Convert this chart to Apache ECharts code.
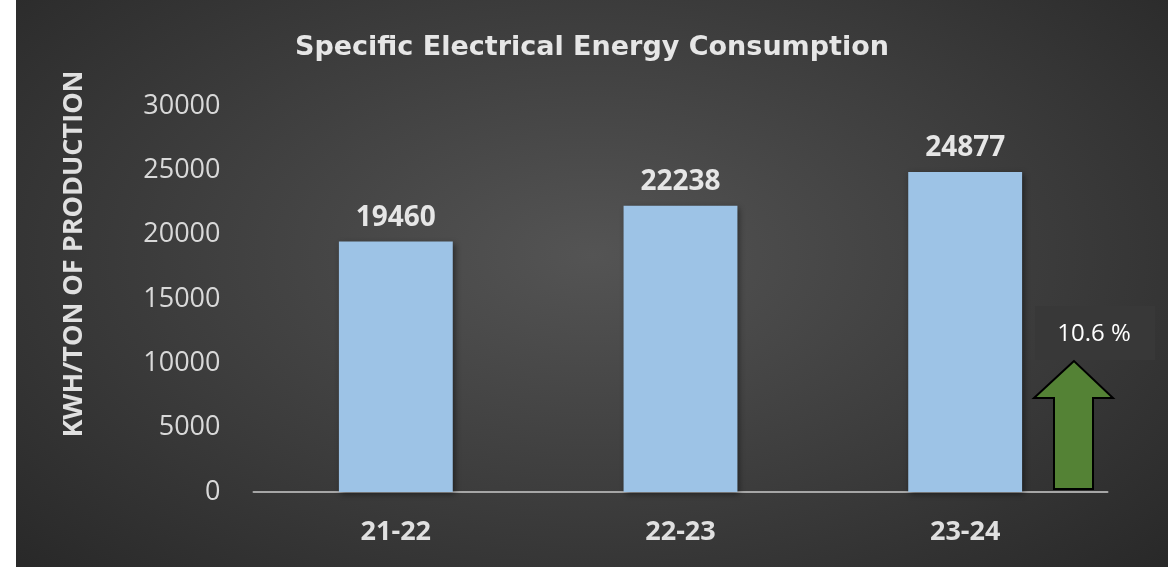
<!DOCTYPE html>
<html>
<head>
<meta charset="utf-8">
<script src="https://cdn.jsdelivr.net/npm/echarts@6/dist/echarts.min.js"></script>
<style>
  html, body { margin: 0; padding: 0; background: #ffffff; }
  #chart {
    position: absolute; left: 16px; top: 0; width: 1152px; height: 567px;
    background: radial-gradient(ellipse 70% 80% at 50% 45%, #545454 0%, #3c3c3c 55%, #282828 100%);
  }
</style>
</head>
<body>
<div id="chart"></div>
<script>
const categories = ['21-22', '22-23', '23-24'];
const values = [19460, 22238, 24877];
const yTicks = { min: 0, max: 30000, interval: 5000 };
const titleText = 'Specific Electrical Energy Consumption';
const yAxisName = 'KWH/TON OF PRODUCTION';
const changeLabel = '10.6 %';

const chart = echarts.init(document.getElementById('chart'), null, { renderer: 'canvas' });
const font = '"Open Sans", "Liberation Sans", sans-serif';

chart.setOption({
  backgroundColor: 'transparent',
  animation: false,
  title: {
    text: titleText,
    left: 'center',
    top: 29,
    textStyle: { color: '#e6e6e6', fontFamily: '"DejaVu Sans", sans-serif', fontWeight: 'bold', fontSize: 27 }
  },
  grid: { left: 237.5, right: 60.5, top: 106, bottom: 75, containLabel: false },
  xAxis: {
    type: 'category',
    data: categories,
    axisLine: { show: true, lineStyle: { color: '#a6a6a6', width: 2 } },
    axisTick: { show: false },
    axisLabel: { color: '#e0e0e0', fontFamily: font, fontWeight: 'bold', fontSize: 27, margin: 27 }
  },
  yAxis: {
    type: 'value',
    min: yTicks.min, max: yTicks.max, interval: yTicks.interval,
    name: yAxisName,
    nameLocation: 'middle',
    nameRotate: 90,
    nameGap: 166,
    nameTextStyle: { color: '#e0e0e0', fontFamily: font, fontWeight: 'bold', fontSize: 27, padding: [0, 0, 0, 90] },
    axisLine: { show: false },
    axisTick: { show: false },
    splitLine: { show: false },
    axisLabel: { color: '#d9d9d9', fontFamily: font, fontSize: 27, margin: 33, formatter: v => String(v) }
  },
  series: [{
    type: 'bar',
    data: values,
    barWidth: '40%',
    itemStyle: {
      color: '#9dc3e6',
      shadowBlur: 6, shadowColor: 'rgba(0,0,0,0.45)', shadowOffsetX: 2, shadowOffsetY: 2
    },
    label: {
      show: true, position: 'top', distance: 10,
      color: '#e6e6e6', fontFamily: font, fontWeight: 'bold', fontSize: 28
    }
  }],
  graphic: [
    {
      type: 'rect',
      shape: { x: 1019, y: 306, width: 120, height: 54 },
      style: { fill: '#383838' }
    },
    {
      type: 'text',
      x: 1078, y: 334,
      style: {
        text: changeLabel, fill: '#ffffff', font: '24px ' + font,
        textAlign: 'center', textVerticalAlign: 'middle'
      }
    },
    {
      type: 'polygon',
      shape: { points: [[1058, 361], [1018, 398], [1038, 398], [1038, 489], [1077, 489], [1077, 398], [1097, 398]] },
      style: { fill: '#548235', stroke: '#000000', lineWidth: 2 }
    }
  ]
});
</script>
</body>
</html>
